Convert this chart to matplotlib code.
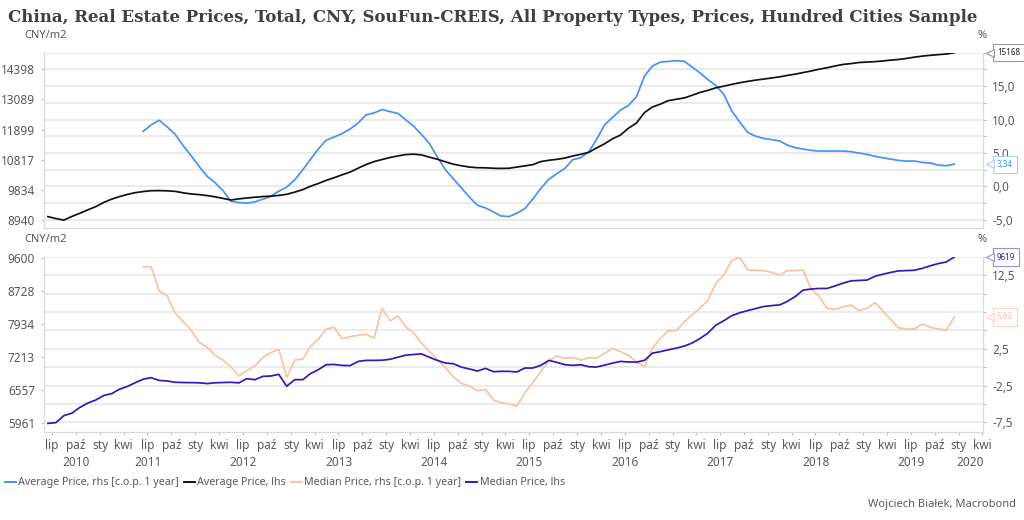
import matplotlib
matplotlib.use('Agg')
import matplotlib.pyplot as plt
import matplotlib.dates as mdates
import matplotlib.transforms as mtransforms
from matplotlib.lines import Line2D
from matplotlib.ticker import FixedLocator, FuncFormatter, NullLocator
import numpy as np
import pandas as pd

plt.rcParams['font.family'] = ['Noto Sans', 'DejaVu Sans']

# monthly observations, Jun 2010 .. Dec 2019
dates = pd.date_range('2010-06-01', periods=115, freq='MS') + pd.Timedelta(days=14)

avg_level = [
    9044, 8990, 8945, 9050, 9140, 9240, 9333, 9460, 9560, 9632,
    9700, 9754, 9790, 9815, 9818, 9812, 9795, 9750, 9715, 9695,
    9665, 9628, 9580, 9531, 9565, 9591, 9615, 9635, 9648, 9670,
    9705, 9770, 9850, 9950, 10040, 10140, 10226, 10320, 10410, 10540,
    10660, 10760, 10830, 10900, 10955, 11000, 11015, 10990, 10910, 10840,
    10750, 10670, 10620, 10575, 10555, 10550, 10535, 10530, 10535, 10575,
    10615, 10655, 10760, 10805, 10835, 10880, 10950, 11010, 11080, 11230,
    11380, 11560, 11700, 11950, 12150, 12560, 12780, 12900, 13040, 13100,
    13154, 13260, 13380, 13470, 13580, 13650, 13730, 13800, 13860, 13915,
    13960, 14010, 14060, 14120, 14180, 14250, 14320, 14400, 14470, 14550,
    14620, 14660, 14710, 14730, 14750, 14780, 14820, 14850, 14900, 14960,
    15010, 15050, 15080, 15110, 15168,
]

# y/y change, Jun 2011 .. Dec 2019
avg_yoy = [
    8.25, 9.2, 9.9, 8.9, 7.8, 6.1, 4.6, 3.0, 1.5, 0.6,
    -0.6, -2.2, -2.4, -2.5, -2.3, -1.9, -1.5, -0.7, -0.1, 1.0,
    2.5, 4.0, 5.6, 6.9, 7.4, 7.9, 8.6, 9.5, 10.7, 11.0,
    11.5, 11.2, 10.9, 10.0, 9.0, 7.8, 6.4, 4.4, 2.5, 1.1,
    -0.2, -1.6, -2.8, -3.2, -3.8, -4.4, -4.5, -4.0, -3.3, -1.9,
    -0.3, 1.1, 1.9, 2.7, 4.0, 4.3, 5.2, 7.0, 9.2, 10.3,
    11.4, 12.1, 13.4, 16.5, 18.0, 18.6, 18.7, 18.8, 18.7, 17.9,
    17.0, 16.0, 15.1, 13.8, 11.3, 9.6, 8.1, 7.5, 7.2, 7.0,
    6.8, 6.2, 5.8, 5.6, 5.4, 5.3, 5.3, 5.3, 5.3, 5.2,
    5.0, 4.8, 4.5, 4.3, 4.1, 3.9, 3.8, 3.8, 3.6, 3.5,
    3.2, 3.1, 3.34,
]

med_level = [
    5950, 5962, 6085, 6129, 6230, 6310, 6365, 6450, 6485, 6565,
    6620, 6690, 6760, 6790, 6735, 6725, 6700, 6695, 6693, 6690,
    6675, 6690, 6695, 6700, 6688, 6770, 6750, 6815, 6822, 6855,
    6623, 6751, 6751, 6867, 6947, 7048, 7055, 7035, 7030, 7116,
    7137, 7137, 7140, 7160, 7205, 7245, 7260, 7273, 7200, 7137,
    7082, 7068, 7000, 6961, 6921, 6974, 6908, 6915, 6915, 6902,
    6981, 6981, 7035, 7137, 7096, 7050, 7035, 7048, 7008, 7001,
    7040, 7080, 7116, 7105, 7102, 7137, 7287, 7320, 7358, 7393,
    7440, 7500, 7600, 7719, 7900, 8001, 8120, 8190, 8240, 8290,
    8338, 8360, 8378, 8460, 8580, 8742, 8770, 8784, 8784, 8850,
    8920, 8979, 8990, 9000, 9100, 9150, 9200, 9241, 9250, 9258,
    9310, 9380, 9440, 9483, 9619,
]

med_yoy = [
    13.64, 13.64, 10.38, 9.66, 7.31, 6.2, 5.05, 3.4, 2.69, 1.65,
    0.97, 0.07, -1.2, -0.48, 0.16, 1.33, 1.97, 2.42, -1.38, 0.97,
    1.11, 2.78, 3.78, 5.18, 5.41, 3.87, 4.14, 4.35, 4.46, 3.96,
    7.99, 6.31, 6.95, 5.5, 4.68, 3.3, 2.1, 1.06, -0.1, -1.29,
    -2.19, -2.56, -3.19, -3.0, -4.46, -4.82, -4.95, -5.3, -3.46, -2.1,
    -0.61, 0.88, 1.52, 1.2, 1.33, 0.97, 1.29, 1.2, 1.88, 2.56,
    2.1, 1.65, 0.75, 0.07, 2.56, 3.91, 4.95, 4.95, 6.18, 7.08,
    8.0, 9.03, 11.38, 12.51, 14.46, 14.9, 13.19, 13.15, 13.1, 12.87,
    12.51, 13.1, 13.1, 13.19, 10.57, 9.66, 7.99, 7.85, 8.21, 8.44,
    7.67, 7.99, 8.76, 7.7, 6.5, 5.36, 5.18, 5.18, 5.86, 5.41,
    5.2, 5.05, 6.82,
]
yoy_dates = dates[12:]

top_ticks = [8940, 9834, 10817, 11899, 13089, 14398]
bot_ticks = [5961, 6557, 7213, 7934, 8728, 9600]
month_names = {1: 'sty', 4: 'kwi', 7: 'lip', 10: 'paź'}

C_BLUE = '#4593f5'
C_BLACK = '#111111'
C_PEACH = '#f9c3a2'
C_PURPLE = '#3a16b4'
C_TXT = '#595959'
C_GRID = '#e6e6e6'
LW = 1.25

title = ('China, Real Estate Prices, Total, CNY, SouFun-CREIS, '
         'All Property Types, Prices, Hundred Cities Sample')

xmin = pd.Timestamp('2010-05-31')
xmax = pd.Timestamp('2020-04-03')

fig = plt.figure(figsize=(10.24, 5.2), dpi=100)
fig.text(0.008, 1 - 22.5 / 520, title, fontsize=12, fontweight='bold',
         family='DejaVu Serif', color='#404040', va='baseline')


def pct_fmt(keep):
    def f(v, pos):
        if not keep(v):
            return ''
        return ('%.1f' % v).replace('.', ',')
    return FuncFormatter(f)


def setup_panel(rect, pct_lim, pct_keep, lev_lim, lev_ticks):
    ax_p = fig.add_axes(rect)
    ax_l = ax_p.twinx()
    ax_p.set_xlim(xmin, xmax)
    ax_p.set_ylim(*pct_lim)
    ax_p.yaxis.set_major_locator(FixedLocator(np.arange(pct_lim[0] // 2.5 * 2.5 + 2.5, pct_lim[1] + 0.01, 2.5)))
    ax_p.yaxis.set_major_formatter(pct_fmt(pct_keep))
    ax_p.grid(axis='y', color=C_GRID, lw=1.1)
    ax_p.set_axisbelow(True)
    ax_p.yaxis.tick_right()

    ax_l.set_yscale('log')
    ax_l.set_ylim(*lev_lim)
    ax_l.yaxis.set_major_locator(FixedLocator(lev_ticks))
    ax_l.yaxis.set_major_formatter(FuncFormatter(lambda v, p: '%d' % round(v)))
    ax_l.yaxis.set_minor_locator(NullLocator())
    ax_l.yaxis.tick_left()

    for a in (ax_p, ax_l):
        a.tick_params(axis='y', colors='#bfbfbf', labelcolor=C_TXT, labelsize=8.5,
                      length=2.5, width=0.8, pad=4)
        a.spines['top'].set_visible(False)
        for s in ('left', 'right', 'bottom'):
            a.spines[s].set_color('#d9d9d9')
            a.spines[s].set_linewidth(0.8)
    return ax_p, ax_l


def tag(ax, y, text, color, edge):
    tr = mtransforms.blended_transform_factory(ax.transAxes, ax.transData)
    ax.text(1.0149, y, text, transform=tr, fontsize=5.8, color=color, va='center',
            ha='left', zorder=20, clip_on=False,
            bbox=dict(boxstyle='square,pad=0.5', fc='white', ec=edge, lw=0.8))
    ax.plot([1.0072], [y], marker='<', ms=6, mfc='white', mec=edge, mew=0.8,
            transform=tr, clip_on=False, zorder=21)


# top panel
top_p, top_l = setup_panel([44 / 1024, 1 - 228.3 / 520, 939 / 1024, 175.6 / 520],
                           (-6.25, 20), lambda v: abs(v % 5) < 1e-6 and v < 19.9,
                           (8717, 15172), top_ticks)
top_p.plot(yoy_dates, avg_yoy, color=C_BLUE, lw=LW)
top_l.plot(dates, avg_level, color=C_BLACK, lw=LW)
top_p.tick_params(axis='x', bottom=False, labelbottom=False)
tag(top_l, avg_level[-1], '%d' % avg_level[-1], '#222222', '#999999')
tag(top_p, avg_yoy[-1], ('%.2f' % avg_yoy[-1]).replace('.', ','), C_BLUE, '#a9cdfa')

# bottom panel
bot_p, bot_l = setup_panel([44 / 1024, 1 - 431.7 / 520, 939 / 1024, 175 / 520],
                           (-8.75, 15), lambda v: abs((v + 7.5) % 5) < 1e-6 and abs(v - 7.5) > 0.1,
                           (5809, 9628), bot_ticks)
bot_p.plot(yoy_dates, med_yoy, color=C_PEACH, lw=LW)
bot_l.plot(dates, med_level, color=C_PURPLE, lw=LW)
tag(bot_l, med_level[-1], '%d' % med_level[-1], C_PURPLE, '#9c8fe0')
tag(bot_p, med_yoy[-1], ('%.2f' % med_yoy[-1]).replace('.', ','), C_PEACH, '#fbd6c0')

# quarterly ticks with Polish month names, longer ticks at year starts
quarters = pd.date_range('2010-07-01', '2020-04-01', freq='QS-JAN')
years = [d for d in quarters if d.month == 1]
bot_p.xaxis.set_major_locator(FixedLocator(mdates.date2num(quarters)))
bot_p.xaxis.set_major_formatter(FuncFormatter(
    lambda v, p: month_names[mdates.num2date(v).month]))
bot_p.xaxis.set_minor_locator(FixedLocator(mdates.date2num(years)))
bot_p.tick_params(axis='x', which='major', length=2, width=0.8, colors='#bfbfbf',
                  labelcolor=C_TXT, labelsize=8.5, pad=3)
bot_p.tick_params(axis='x', which='minor', length=4.5, width=0.8, colors='#bfbfbf')

# year labels centred on the visible part of each year
trx = mtransforms.blended_transform_factory(bot_p.transData, bot_p.transAxes)
for yr in range(2010, 2021):
    a = max(pd.Timestamp(f'{yr}-01-01'), quarters[0])
    b = min(pd.Timestamp(f'{yr + 1}-01-01'), quarters[-1])
    mid = a + (b - a) / 2
    bot_p.text(mdates.date2num(mid), -0.175, str(yr), transform=trx, ha='center',
               va='center', fontsize=8.5, color=C_TXT)

# units
for ypix in (35, 240):
    fig.text(24 / 1024, 1 - ypix / 520, 'CNY/m2', fontsize=8, color=C_TXT, va='center')
    fig.text(982 / 1024, 1 - ypix / 520, '%', fontsize=8, color=C_TXT, va='center', ha='center')

handles = [Line2D([], [], color=c, lw=1.4) for c in (C_BLUE, C_BLACK, C_PEACH, C_PURPLE)]
labels = ['Average Price, rhs [c.o.p. 1 year]', 'Average Price, lhs',
          'Median Price, rhs [c.o.p. 1 year]', 'Median Price, lhs']
leg = fig.legend(handles, labels, loc='center left', bbox_to_anchor=(0.005, 1 - 483 / 520),
                 ncol=4, frameon=False, fontsize=7.7, handlelength=1.0, handletextpad=0.25,
                 columnspacing=0.45, borderaxespad=0, borderpad=0)
for t in leg.get_texts():
    t.set_color(C_TXT)

fig.text(1016 / 1024, 1 - 504 / 520, 'Wojciech Białek, Macrobond', fontsize=8,
         color=C_TXT, ha='right', va='center')

fig.savefig('out.png', dpi=100)
